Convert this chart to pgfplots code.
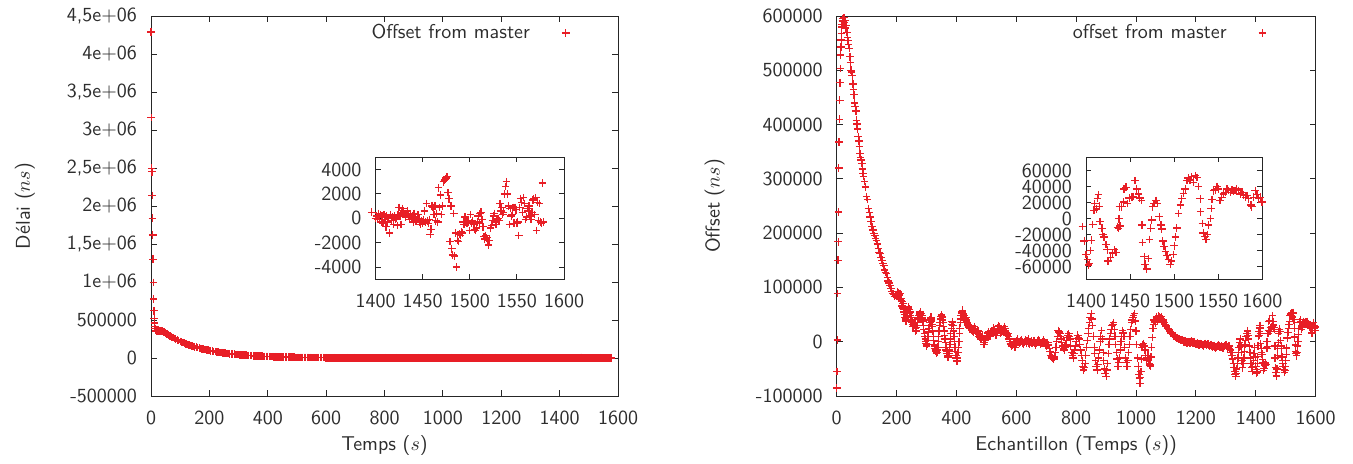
\documentclass[border=0pt]{standalone}
\usepackage{pgfplots}
\pgfplotsset{compat=1.18}
\usepackage{pgfplotstable}
\renewcommand{\familydefault}{\sfdefault}
\definecolor{ptred}{RGB}{232,30,38}
\definecolor{txt}{RGB}{45,45,45}

% left: offset (ns) vs time (s)
\pgfplotstableread{
t v
0 4290000
1 3163000
2 2498000
3 2450000
4 2138000
5 1840000
6 1617000
7 1300000
8 994000
9 776000
10 622000
11 517000
12 460000
13 415000
14 390000
16 365000
18 356000
21 350000
24 354000
27 356000
30 358000
33 352000
36 356000
40 355000
45 341000
50 327700
55 315000
60 302500
65 290700
70 279300
75 268300
80 257800
85 247700
90 238000
95 228600
100 219700
105 211000
110 202800
115 194800
120 187200
125 179800
130 172800
135 166000
140 159500
145 153200
150 147300
155 141500
160 135900
165 130600
170 125500
175 120600
180 115800
185 111300
190 106900
195 102700
200 98700
205 94800
210 91100
215 87500
220 84100
225 80800
230 77600
235 74600
240 71700
245 68900
250 66200
255 63600
260 61100
265 58700
270 56400
275 54200
280 52000
285 50000
290 48000
295 46200
300 44400
305 42600
310 40900
315 39300
320 37800
325 36300
330 34900
335 33500
340 32200
345 30900
350 29700
355 28600
360 27400
365 26400
370 25300
375 24400
380 23400
385 22500
390 21600
395 20700
400 19900
405 19100
410 18400
415 17700
420 17000
425 16300
430 15700
435 15100
440 14500
445 13900
450 13400
455 12800
460 12300
465 11800
470 11400
475 10900
480 10500
485 10100
490 9700
495 9300
500 9000
505 8600
510 8300
515 7900
520 7600
525 7300
530 7000
535 6800
540 6500
545 6200
550 6000
555 5700
560 5500
565 5300
570 5100
575 4900
580 4700
585 4500
590 4300
595 4200
600 4000
607 2000
614 -1000
621 1500
628 3000
635 -2000
642 500
649 2500
656 -1500
663 1000
670 -500
677 2000
684 -2500
691 1000
698 3000
705 -1000
712 500
719 -2000
726 2500
733 0
740 1500
747 -3000
754 1000
761 2000
768 -1500
775 500
782 2500
789 -1000
796 0
803 3000
810 -2000
817 1000
824 -500
831 2000
838 -2500
845 1500
852 500
859 -1500
866 2500
873 -500
880 1000
887 -3000
894 2000
901 500
908 -1000
915 3000
922 -2000
929 1000
936 0
943 2500
950 -1500
957 500
964 -2500
971 1500
978 3000
985 -1000
992 500
999 -2000
1006 2000
1013 -500
1020 1000
1027 -3000
1034 2500
1041 0
1048 -1500
1055 1500
1062 3000
1069 -2000
1076 500
1083 -1000
1090 2000
1097 -2500
1104 1000
1111 0
1118 2500
1125 -1500
1132 500
1139 -3000
1146 1500
1153 2000
1160 -1000
1167 500
1174 -2000
1181 3000
1188 -500
1195 1000
1202 -2500
1209 2000
1216 0
1223 -1500
1230 1500
1237 2500
1244 -1000
1251 500
1258 -3000
1265 2000
1272 -500
1279 1000
1286 -2000
1293 3000
1300 0
1307 -1500
1314 1500
1321 2000
1328 -2500
1335 500
1342 -1000
1349 2500
1356 -500
1363 1000
1370 -2000
1377 1500
1384 0
1391 -1000
1396 500
603.5 -1500
610.5 1000
617.5 2500
624.5 -500
631.5 0
638.5 1500
645.5 -2500
652.5 2000
659.5 500
666.5 -1000
673.5 3000
680.5 -1500
687.5 0
694.5 1000
701.5 -2000
708.5 2500
715.5 -500
722.5 1000
729.5 -3000
736.5 2000
743.5 500
750.5 -1500
757.5 1500
764.5 0
771.5 -2500
778.5 2000
785.5 1000
792.5 -1000
799.5 500
806.5 2500
813.5 -2000
820.5 0
827.5 1500
834.5 -500
841.5 3000
848.5 -2500
855.5 1000
862.5 -1000
869.5 500
876.5 2000
883.5 -1500
890.5 0
897.5 2500
904.5 -3000
911.5 1000
918.5 -500
925.5 1500
932.5 -2000
939.5 500
946.5 3000
953.5 -1000
960.5 0
967.5 2000
974.5 -2500
981.5 1000
988.5 -1500
995.5 2500
1002.5 0
1009.5 -500
1016.5 1500
1023.5 -2000
1030.5 3000
1037.5 500
1044.5 -1000
1051.5 2000
1058.5 -3000
1065.5 1000
1072.5 -500
1079.5 2500
1086.5 0
1093.5 -1500
1100.5 1500
1107.5 -2500
1114.5 2000
1121.5 500
1128.5 -1000
1135.5 3000
1142.5 -2000
1149.5 0
1156.5 1000
1163.5 -1500
1170.5 2500
1177.5 -500
1184.5 1500
1191.5 -3000
1198.5 500
1205.5 2000
1212.5 -1000
1219.5 0
1226.5 2500
1233.5 -2500
1240.5 1000
1247.5 -500
1254.5 1500
1261.5 -2000
1268.5 3000
1275.5 0
1282.5 -1500
1289.5 500
1296.5 2000
1303.5 -1000
1310.5 2500
1317.5 -500
1324.5 1000
1331.5 -2000
1338.5 1500
1345.5 0
1352.5 -2500
1359.5 2000
1366.5 500
1373.5 -1000
1380.5 1000
1387.5 -1500
1393.5 2000
1400 0
1401 200
1402 -100
1403 400
1404 100
1405 300
1406 -300
1407 200
1408 -400
1409 300
1410 100
1411 -700
1412 200
1413 -300
1414 0
1415 -1200
1416 300
1417 -200
1418 100
1419 -500
1420 200
1421 -100
1422 0
1423 -600
1424 300
1425 900
1426 200
1427 -500
1428 500
1429 800
1430 600
1431 300
1432 100
1433 400
1434 600
1435 200
1436 -100
1437 300
1438 0
1439 200
1440 -300
1441 400
1442 100
1443 -200
1444 -100
1445 300
1446 0
1447 -300
1448 -500
1449 -200
1450 -400
1451 -100
1452 600
1453 -300
1454 1200
1455 -200
1456 -400
1457 -100
1458 -1300
1459 -900
1460 1000
1461 900
1462 300
1463 1000
1464 -200
1465 400
1466 -300
1467 2500
1468 900
1469 1900
1470 300
1471 1000
1472 3000
1473 3100
1474 3200
1475 3300
1476 3400
1477 2100
1478 1600
1479 -1900
1480 1000
1481 -2500
1482 -3000
1483 400
1484 -3100
1485 -1200
1486 -4000
1487 -1800
1488 -1900
1489 -1300
1490 -1400
1491 -1100
1492 -1200
1493 -300
1494 -500
1495 100
1496 -300
1497 -400
1498 -200
1499 -300
1500 -1000
1501 300
1502 -400
1503 -200
1504 -500
1505 -900
1506 -1000
1507 -800
1508 -300
1509 200
1510 -400
1511 400
1512 500
1513 -100
1514 -700
1515 -1500
1516 -1700
1517 -1400
1518 -1600
1519 -1800
1520 -2200
1521 -1800
1522 -800
1523 -600
1524 -200
1525 200
1526 400
1527 -300
1528 -500
1529 -100
1530 0
1531 -200
1532 1200
1533 600
1534 900
1535 300
1536 500
1537 2000
1538 2600
1539 3000
1540 2000
1541 1000
1542 -500
1543 800
1544 200
1545 300
1546 900
1547 -400
1548 900
1549 700
1550 -400
1551 -300
1552 -1400
1553 900
1554 1600
1555 1300
1556 500
1557 1700
1558 1200
1559 -100
1560 100
1561 800
1562 600
1563 1000
1564 200
1565 -100
1566 500
1567 1500
1568 1600
1569 300
1570 1700
1571 -1000
1572 1300
1573 -200
1574 1200
1575 -300
1576 -400
1577 2900
1578 -300
}\delaidata

% right: offset (ns) vs sample
\pgfplotstableread{
t v
0 -85000
1 -55000
2 3000
3 89000
4 150000
5 184000
6 239000
7 320000
8 368000
9 410000
10 445000
11 477000
12 503000
13 528000
14 543000
15 556000
16 568000
17 580000
18 585000
19 592000
20 595000
22 590000
24 597000
26 588000
28 592000
30 578000
32 583000
34 570000
36 560000
38 555000
40 548000
42 540000
44 525000
46 515000
48 500000
50 497000
52 490000
54 475000
56 464000
58 455000
60 440000
62 433000
64 425000
66 408000
68 401000
70 392000
72 378000
74 370000
76 360000
78 347000
80 340000
82 335000
84 328000
86 318000
88 310000
90 305000
93 295000
96 285000
100 267000
103 262000
106 245000
109 238000
112 230000
115 222000
118 212000
121 206000
124 200000
127 196000
130 190000
133 187000
136 180000
139 172000
142 165000
145 163000
148 155000
151 150000
154 144000
157 140000
160 132000
163 128000
166 126000
169 118000
172 112000
175 108000
178 104000
181 98000
184 93000
187 89000
190 88000
193 83000
196 85000
200 83000
203 88000
206 90000
209 86000
212 89000
215 80000
218 74000
221 70000
224 60000
227 50000
230 42000
233 40000
236 52000
239 64000
242 60000
245 55000
248 45000
251 38000
254 32000
257 30000
260 35000
263 25000
266 21000
269 30000
272 42000
275 48000
278 50000
281 52000
284 48000
287 45000
290 30000
293 15000
296 5000
299 -3000
302 -5000
305 10000
308 25000
311 35000
314 42000
317 38000
320 28000
323 10000
326 -5000
329 -12000
332 -18000
335 -20000
338 -10000
341 10000
344 30000
347 42000
350 49000
353 45000
356 35000
359 20000
362 5000
365 -10000
368 -18000
371 -25000
374 -27000
377 -15000
380 5000
383 25000
386 37000
389 30000
392 10000
395 -10000
398 -25000
401 -34000
404 -30000
407 -10000
410 15000
413 35000
416 48000
419 55000
422 52000
425 48000
428 40000
431 45000
434 38000
437 32000
440 28000
444 25000
448 30000
452 22000
456 18000
460 28000
464 20000
468 15000
472 20000
476 10000
480 5000
484 8000
488 12000
492 -5000
496 2000
500 8000
504 15000
508 18000
512 10000
516 20000
520 15000
524 25000
528 18000
532 12000
536 20000
540 30000
544 25000
548 15000
552 22000
556 18000
560 28000
564 20000
568 12000
572 15000
576 5000
580 -3000
584 -8000
588 -5000
592 0
596 -10000
600 -2000
605 5000
610 -3000
615 2000
620 0
625 -5000
630 3000
635 -2000
640 5000
645 -4000
650 1000
655 -3000
660 2000
665 -6000
670 0
675 4000
680 -5000
685 -2000
690 3000
695 -3000
700 -8000
705 -2000
710 -12000
715 -25000
720 -30000
725 -32000
730 -20000
735 0
740 21000
745 15000
750 5000
755 -8000
760 -15000
765 -5000
770 8000
775 15000
780 5000
785 -20000
790 -30000
795 -15000
800 0
805 12000
810 5000
815 -15000
820 -35000
825 -52000
830 -40000
835 -10000
840 15000
845 35000
850 52000
855 30000
860 -10000
865 -35000
870 -52000
875 -30000
880 0
885 21000
890 -20000
895 -50000
900 -64000
905 -40000
910 -5000
915 15000
920 30000
925 35000
930 10000
935 -20000
940 -46000
945 -30000
950 0
955 21000
960 10000
965 -30000
970 -46000
975 -20000
980 10000
985 35000
990 45000
995 52000
1000 20000
1005 -30000
1010 -60000
1013 -77000
1016 -55000
1020 -10000
1025 -3000
1030 -15000
1035 -35000
1040 -25000
1045 -40000
1048 -46000
1052 -10000
1056 25000
1060 40000
1064 35000
1068 45000
1072 38000
1076 48000
1080 42000
1084 46000
1088 35000
1092 40000
1096 32000
1100 30000
1105 25000
1110 22000
1115 18000
1120 15000
1125 12000
1130 10000
1135 8000
1140 6000
1145 5000
1150 3000
1155 4000
1160 0
1165 2000
1170 -3000
1175 0
1180 -2000
1185 1000
1190 -3000
1195 0
1200 -5000
1205 -2000
1210 -6000
1215 -3000
1220 -5000
1225 -8000
1230 -3000
1235 -6000
1240 -4000
1245 -8000
1250 -5000
1255 -10000
1260 -7000
1265 -12000
1270 -9000
1275 -6000
1280 -10000
1285 -8000
1290 -12000
1295 -9000
1300 -5000
1305 -12000
1310 -8000
1315 -15000
1320 -25000
1325 -40000
1330 -55000
1333 -64000
1336 -50000
1340 -30000
1344 -10000
1348 5000
1352 -20000
1356 -48000
1360 -30000
1364 -5000
1368 10000
1372 20000
1376 5000
1380 -20000
1384 -40000
1388 -55000
1392 -35000
1396 -10000
1400 -45000
1401.5 -51000
1402.7 -58000
1404 -56000
1405 -40000
1406 -27000
1407.6 -7400
1409 10700
1410 19000
1412 12000
1413 25500
1414 30000
1415 15600
1416 -3700
1418 -12000
1419 -20000
1420.5 -23000
1422.7 -32500
1424 -39000
1425 -53000
1428 -49000
1430 -43000
1432 -39000
1434 -42000
1435.6 -10700
1437 -12000
1438.6 -9000
1437.5 0
1438 15000
1440.5 15000
1442.4 21000
1443 37400
1445.5 39500
1447 19000
1449 26000
1452 27000
1453.8 28000
1455.7 47700
1457.6 37400
1459.5 31000
1461 26000
1463 23000
1463.5 -7800
1464 -30000
1466 -47700
1467 -57000
1469 -63000
1471 -50000
1472 -26000
1473.5 -12000
1474.6 -1600
1475.8 15000
1477 19000
1479.5 23000
1481 19000
1483 2500
1485 -7800
1486 -13000
1487 -28000
1488.6 -34500
1490 -40700
1491.7 -46000
1493.5 -51000
1495.5 -57000
1497 -53000
1499 -45000
1500 -34000
1501.5 -23000
1503 -11500
1505 6600
1507 17000
1508.7 25000
1510.6 32000
1512.5 37400
1514.4 47700
1516 51000
1518 48600
1520 52700
1522 45700
1524 54000
1525.8 51800
1527.6 40300
1529.5 25000
1530 8600
1532 -5800
1533 -18000
1535 -22000
1536 -26000
1538 -20000
1539 -7800
1541 400
1542 12800
1543 24000
1544.7 35000
1546.6 36000
1548.5 40300
1550 37400
1552 23000
1554 27000
1556 31000
1558 33000
1560 37400
1561.7 35400
1563.6 33300
1565.5 36200
1567.4 34600
1569 35400
1571 37400
1573 35400
1575 31000
1577 33300
1578.8 30000
1580.7 27000
1582.6 29000
1584.5 25000
1587 17000
1588 15000
1590 27000
1592 35400
1594 30000
1596 25000
1597.7 27000
1599.6 21000
201 86000
204 92000
207 84000
210 88000
213 78000
216 76000
219 66000
222 62000
225 55000
228 45000
231 38000
234 46000
237 58000
240 62000
243 52000
246 48000
249 40000
252 35000
255 28000
258 33000
261 30000
264 20000
267 26000
270 36000
273 45000
276 52000
279 55000
282 48000
285 42000
288 38000
291 22000
294 10000
297 0
300 -8000
303 2000
306 18000
309 30000
312 40000
315 45000
318 32000
321 20000
324 2000
327 -8000
330 -15000
333 -22000
336 -15000
339 0
342 20000
345 36000
348 46000
351 47000
354 40000
357 28000
360 12000
363 -2000
366 -15000
369 -22000
372 -28000
375 -22000
378 -5000
381 15000
384 32000
387 35000
390 20000
393 0
396 -18000
399 -30000
402 -36000
405 -20000
408 0
411 25000
414 42000
417 52000
420 58000
423 50000
426 44000
429 42000
432 40000
435 35000
438 30000
442 27000
446 28000
450 25000
454 20000
458 22000
462 24000
466 18000
470 18000
474 14000
478 8000
482 6000
486 10000
490 3000
494 -2000
498 5000
502 12000
506 16000
510 14000
514 15000
518 18000
522 20000
526 22000
530 15000
534 16000
538 25000
542 28000
546 20000
550 18000
554 20000
558 24000
562 24000
566 16000
570 14000
574 10000
578 0
582 -5000
586 -6000
590 -2000
594 -5000
598 -6000
602 2000
607 0
612 -1000
617 3000
622 -3000
627 -1000
632 1000
637 2000
642 -2000
647 -1000
652 -2000
657 1000
662 -2000
667 -3000
672 2000
677 1000
682 -3000
687 0
692 -1000
697 -5000
702 -5000
707 -6000
712 -18000
717 -28000
722 -31000
727 -28000
732 -10000
737 10000
742 18000
747 10000
752 -2000
757 -12000
762 -10000
767 2000
772 12000
777 10000
782 -8000
787 -25000
792 -22000
797 -8000
802 6000
807 8000
812 -5000
817 -25000
822 -45000
827 -48000
832 -25000
837 2000
842 25000
847 45000
852 42000
857 10000
862 -22000
867 -45000
872 -42000
877 -15000
882 10000
887 5000
892 -35000
897 -58000
902 -52000
907 -22000
912 5000
917 22000
922 32000
927 22000
932 -5000
937 -32000
942 -38000
947 -15000
952 10000
957 16000
962 -10000
967 -38000
972 -35000
977 -5000
982 22000
987 40000
992 48000
997 38000
1002 -5000
1007 -45000
1011 -68000
1014 -66000
1018 -32000
1022 -6000
1027 -8000
1032 -25000
1037 -30000
1042 -32000
1046 -43000
1050 -28000
1054 8000
1058 32000
1062 38000
1066 40000
1070 42000
1074 43000
1078 45000
1082 44000
1086 40000
1090 38000
1094 36000
1098 31000
1102 28000
1107 24000
1112 20000
1117 16000
1122 14000
1127 11000
1132 9000
1137 7000
1142 5000
1147 4000
1152 3000
1157 2000
1162 1000
1167 -1000
1172 -1000
1177 -1000
1182 0
1187 -1000
1192 -1000
1197 -3000
1202 -3000
1207 -4000
1212 -4000
1217 -4000
1222 -6000
1227 -5000
1232 -5000
1237 -5000
1242 -6000
1247 -7000
1252 -8000
1257 -8000
1262 -10000
1267 -10000
1272 -7000
1277 -8000
1282 -9000
1287 -10000
1292 -10000
1297 -7000
1302 -8000
1307 -10000
1312 -12000
1317 -20000
1322 -32000
1327 -48000
1331 -60000
1334 -58000
1338 -40000
1342 -20000
1346 -2000
1350 -8000
1354 -35000
1358 -40000
1362 -18000
1366 2000
1370 15000
1374 12000
1378 -8000
1382 -30000
1386 -48000
1390 -45000
1394 -22000
1398 -28000
}\offsetdata

\pgfplotsset{
  gp/.style={
    scale only axis, clip=false,
    scaled x ticks=false, scaled y ticks=false,
    tick align=inside, tick pos=both, major tick length=3pt,
    axis line style={black!85, line width=0.5pt},
    every tick/.style={black!85, line width=0.5pt},
    tick label style={text=txt},
    label style={text=txt},
    xticklabel style={yshift=-4pt},
    yticklabel style={xshift=-3.5pt},
  },
  pts/.style={only marks, mark=+, mark size=1.9pt, draw=ptred,
    mark options={draw=ptred, fill=ptred, line width=0.65pt}},
  gpleg/.style={legend plot pos=right,
    legend style={draw=none, fill=none, at={(0.91,0.955)}, anchor=east,
      text=txt, column sep=14pt}},
}

\begin{document}
\begin{tikzpicture}
\path[use as bounding box] (0,0) rectangle (676.5pt,231.5pt);

% left main
\begin{axis}[gp, gpleg,
  at={(75.5pt,33.5pt)}, anchor=south west,
  width=233.5pt, height=190pt,
  xmin=0, xmax=1600, ymin=-500000, ymax=4500000,
  xtick={0,200,...,1600},
  xticklabels={0,200,400,600,800,1000,1200,1400,1600},
  ytick={-500000,0,500000,1000000,1500000,2000000,2500000,3000000,3500000,4000000,4500000},
  yticklabels={-500000,0,500000,1e+06,{1,5e+06},2e+06,{2,5e+06},3e+06,{3,5e+06},4e+06,{4,5e+06}},
  xlabel={Temps ($s$)}, ylabel={Délai ($ns$)},
  xlabel style={at={(axis description cs:0.5,-0.13)}, anchor=center},
  ylabel style={at={(axis description cs:-0.27,0.5)}, anchor=center},
]
\addplot[pts] table[x=t, y=v] {\delaidata};
\addlegendentry{Offset from master}
\end{axis}

% left inset
\begin{axis}[gp,
  at={(187.75pt,91.85pt)}, anchor=south west,
  width=94.25pt, height=61pt, major tick length=2.5pt,
  xmin=1400, xmax=1600, ymin=-5000, ymax=5000,
  xtick={1400,1450,...,1600},
  xticklabels={1400,1450,1500,1550,1600},
  ytick={-4000,-2000,...,4000},
  yticklabels={-4000,-2000,0,2000,4000},
  restrict x to domain=1395:1605,
]
\addplot[pts] table[x=t, y=v] {\delaidata};
\end{axis}

% right main
\begin{axis}[gp, gpleg,
  at={(418.35pt,33.5pt)}, anchor=south west,
  width=239.5pt, height=190pt,
  xmin=0, xmax=1600, ymin=-100000, ymax=600000,
  xtick={0,200,...,1600},
  xticklabels={0,200,400,600,800,1000,1200,1400,1600},
  ytick={-100000,0,100000,200000,300000,400000,500000,600000},
  yticklabels={-100000,0,100000,200000,300000,400000,500000,600000},
  xlabel={Echantillon (Temps ($s$))}, ylabel={Offset ($ns$)},
  xlabel style={at={(axis description cs:0.5,-0.13)}, anchor=center},
  ylabel style={at={(axis description cs:-0.255,0.5)}, anchor=center},
]
\addplot[pts] table[x=t, y=v] {\offsetdata};
\addlegendentry{offset from master}
\end{axis}

% right inset
\begin{axis}[gp,
  at={(543pt,91.85pt)}, anchor=south west,
  width=88.15pt, height=61pt, major tick length=2.5pt,
  xmin=1400, xmax=1600, ymin=-76000, ymax=77000,
  xtick={1400,1450,...,1600},
  xticklabels={1400,1450,1500,1550,1600},
  ytick={-60000,-40000,...,60000},
  yticklabels={-60000,-40000,-20000,0,20000,40000,60000},
  yticklabel style={inner ysep=0pt},
  restrict x to domain=1395:1605,
]
\addplot[pts] table[x=t, y=v] {\offsetdata};
\end{axis}
\end{tikzpicture}
\end{document}
